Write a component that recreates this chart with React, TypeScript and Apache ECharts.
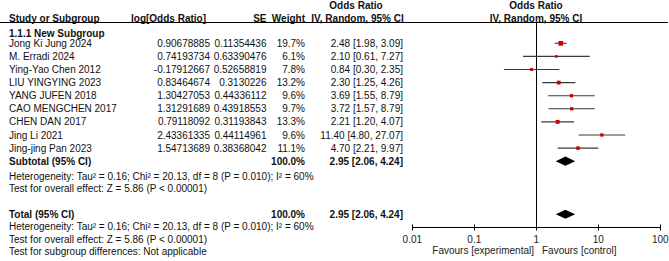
import React, { useEffect, useRef } from "react";
import * as echarts from "echarts";

// Study-level data
const studies = [
  "Jong Ki Jung 2024",
  "M. Erradi 2024",
  "Ying-Yao Chen 2012",
  "LIU YINGYING 2023",
  "YANG JUFEN 2018",
  "CAO MENGCHEN 2017",
  "CHEN DAN 2017",
  "Jing Li 2021",
  "Jing-jing Pan 2023",
];
const logOR = [
  "0.90678885", "0.74193734", "-0.17912667", "0.83464674", "1.30427053",
  "1.31291689", "0.79118092", "2.43361335", "1.54713689",
];
const seValues = [
  "0.11354436", "0.63390476", "0.52658819", "0.3130226", "0.44336112",
  "0.43918553", "0.31193843", "0.44114961", "0.38368042",
];
const weights = [19.7, 6.1, 7.8, 13.2, 9.6, 9.7, 13.3, 9.6, 11.1];
const oddsRatio = [2.48, 2.1, 0.84, 2.3, 3.69, 3.72, 2.21, 11.4, 4.7];
const ciLow = [1.98, 0.61, 0.3, 1.25, 1.55, 1.57, 1.2, 4.8, 2.21];
const ciHigh = [3.09, 7.27, 2.35, 4.26, 8.79, 8.79, 4.07, 27.07, 9.97];

// Pooled estimates: subtotal and total
const pooledLabels = ["Subtotal (95% CI)", "Total (95% CI)"];
const pooledOR = [2.95, 2.95];
const pooledLow = [2.06, 2.06];
const pooledHigh = [4.24, 4.24];
const pooledWeight = ["100.0%", "100.0%"];

const xTicks = [0.01, 0.1, 1, 10, 100];
const xTickLabels = ["0.01", "0.1", "1", "10", "100"];
const nullEffect = 1;

const heterogeneityText =
  "Heterogeneity: Tau\u00b2 = 0.16; Chi\u00b2 = 20.13, df = 8 (P = 0.010); I\u00b2 = 60%";
const overallText = "Test for overall effect: Z = 5.86 (P < 0.00001)";
const subgroupText = "Test for subgroup differences: Not applicable";

// Layout
const W = 669;
const H = 261;
const FONT = '"Liberation Sans", Arial, Helvetica, sans-serif';
const TXT = "#111";
const ROW0 = 43.3; // pixel centre of first study row
const ROW_H = 13.1;
const GRID_TOP = 23;
const AXIS_Y = 227.5; // pixel position of the odds-ratio axis
const PLOT_LEFT = 412.3;
const PLOT_RIGHT = 660.3;
const Y_MIN = (GRID_TOP - ROW0) / ROW_H;
const Y_AXIS = (AXIS_Y - ROW0) / ROW_H; // row value of the axis baseline
const Y_EXT = Y_AXIS + 2.4; // grid extends below the axis so the axis sits inside it
const SUB_ROW = 9;
const TOTAL_ROW = 13.05;
const TICK_HALF = 3;

const rowY = (r: number) => ROW0 + ROW_H * r;

const COL_STUDY = 9;
const COL_LOG = 210;
const COL_SE = 266.5;
const COL_W = 305;
const COL_OR = 403;

function txt(
  text: string,
  x: number,
  y: number,
  align: "left" | "right" | "center" = "left",
  bold = false
) {
  return {
    type: "text",
    x,
    y,
    silent: true,
    style: {
      text,
      fill: TXT,
      font: `${bold ? "bold " : ""}10px ${FONT}`,
      align,
      verticalAlign: "middle",
    },
  };
}

const fmt = (v: number) => v.toFixed(2);
const orLabel = (o: number, l: number, h: number) => `${fmt(o)} [${fmt(l)}, ${fmt(h)}]`;

export default function App() {
  const ref = useRef<HTMLDivElement>(null);

  useEffect(() => {
    if (!ref.current) return;
    const chart = echarts.init(ref.current, null, { renderer: "svg" });

    const graphics: any[] = [];
    // headers
    graphics.push(txt("Odds Ratio", 356, 5.7, "center", true));
    graphics.push(txt("Odds Ratio", 536, 5.7, "center", true));
    graphics.push(txt("Study or Subgroup", COL_STUDY, 18.3, "left", true));
    graphics.push(txt("log[Odds Ratio]", 131, 18.3, "left", true));
    graphics.push(txt("SE", COL_SE, 18.3, "right", true));
    graphics.push(txt("Weight", COL_W, 18.3, "right", true));
    graphics.push(txt("IV, Random, 95% CI", 357.5, 18.3, "center", true));
    graphics.push(txt("IV, Random, 95% CI", 536, 18.3, "center", true));
    graphics.push({
      type: "line",
      silent: true,
      shape: { x1: 0, y1: 22.5, x2: 668, y2: 22.5 },
      style: { stroke: "#000", lineWidth: 1 },
    });
    graphics.push(txt("1.1.1 New Subgroup", COL_STUDY, 33.3, "left", true));

    studies.forEach((s, i) => {
      const y = rowY(i);
      graphics.push(txt(s, COL_STUDY, y));
      graphics.push(txt(logOR[i], COL_LOG, y, "right"));
      graphics.push(txt(seValues[i], COL_SE, y, "right"));
      graphics.push(txt(`${weights[i].toFixed(1)}%`, COL_W, y, "right"));
      graphics.push(txt(orLabel(oddsRatio[i], ciLow[i], ciHigh[i]), COL_OR, y, "right"));
    });

    // subtotal block
    const ySub = rowY(SUB_ROW);
    graphics.push(txt(pooledLabels[0], COL_STUDY, ySub, "left", true));
    graphics.push(txt(pooledWeight[0], COL_W, ySub, "right", true));
    graphics.push(txt(orLabel(pooledOR[0], pooledLow[0], pooledHigh[0]), COL_OR, ySub, "right", true));
    graphics.push(txt(heterogeneityText, COL_STUDY, 176.2));
    graphics.push(txt(overallText, COL_STUDY, 188.8));

    // total block
    const yTot = rowY(TOTAL_ROW);
    graphics.push(txt(pooledLabels[1], COL_STUDY, yTot, "left", true));
    graphics.push(txt(pooledWeight[1], COL_W, yTot, "right", true));
    graphics.push(txt(orLabel(pooledOR[1], pooledLow[1], pooledHigh[1]), COL_OR, yTot, "right", true));
    graphics.push(txt(heterogeneityText, COL_STUDY, 226.6));
    graphics.push(txt(overallText, COL_STUDY, 239.1));
    graphics.push(txt(subgroupText, COL_STUDY, 251.6));

    // favours labels
    graphics.push({
      type: "text",
      x: 534,
      y: 250.5,
      silent: true,
      style: { text: "Favours [experimental]", fill: "#222", font: `10px ${FONT}`, align: "right", verticalAlign: "middle" },
    });
    graphics.push({
      type: "text",
      x: 542,
      y: 250.5,
      silent: true,
      style: { text: "Favours [control]", fill: "#222", font: `10px ${FONT}`, align: "left", verticalAlign: "middle" },
    });

    const ciData = studies.map((_, i) => [ciLow[i], ciHigh[i], i]);
    const pointData = studies.map((_, i) => [oddsRatio[i], i, weights[i]]);
    const diamondData = [
      [pooledOR[0], pooledLow[0], pooledHigh[0], SUB_ROW],
      [pooledOR[1], pooledLow[1], pooledHigh[1], TOTAL_ROW],
    ];
    const tickData = xTicks.map((t) => [t, Y_AXIS]);
    const nullData = [[nullEffect, Y_MIN, Y_AXIS]];

    chart.setOption({
      animation: false,
      grid: {
        left: PLOT_LEFT,
        width: PLOT_RIGHT - PLOT_LEFT,
        top: GRID_TOP,
        height: (Y_EXT - Y_MIN) * ROW_H,
        containLabel: false,
      },
      xAxis: {
        type: "log",
        logBase: 10,
        min: xTicks[0],
        max: xTicks[xTicks.length - 1],
        show: false,
        splitLine: { show: false },
      },
      yAxis: {
        type: "value",
        inverse: true,
        min: Y_MIN,
        max: Y_EXT,
        show: false,
        splitLine: { show: false },
      },
      graphic: graphics,
      series: [
        {
          // odds-ratio axis tick labels
          type: "custom",
          silent: true,
          clip: false,
          data: tickData,
          renderItem: (params: any, api: any) => {
            const p = api.coord([api.value(0), api.value(1)]);
            return {
              type: "text",
              x: p[0],
              y: p[1] + 11.8,
              style: {
                text: xTickLabels[params.dataIndex],
                fill: "#222",
                font: `10px ${FONT}`,
                align: "center",
                verticalAlign: "middle",
              },
            };
          },
        },
        {
          // line of no effect
          type: "custom",
          silent: true,
          clip: false,
          data: nullData,
          renderItem: (_p: any, api: any) => {
            const a = api.coord([api.value(0), api.value(1)]);
            const b = api.coord([api.value(0), api.value(2)]);
            const x = Math.round(a[0]) + 0.5;
            return {
              type: "line",
              shape: { x1: x, y1: a[1], x2: x, y2: b[1] },
              style: { stroke: "#000", lineWidth: 1 },
            };
          },
        },
        {
          // confidence intervals
          type: "custom",
          silent: true,
          data: ciData,
          renderItem: (_p: any, api: any) => {
            const a = api.coord([api.value(0), api.value(2)]);
            const b = api.coord([api.value(1), api.value(2)]);
            return {
              type: "line",
              shape: { x1: a[0], y1: a[1], x2: b[0], y2: b[1] },
              style: { stroke: "#3a3a3a", lineWidth: 1.1 },
            };
          },
        },
        {
          // study estimates, sized by weight
          type: "scatter",
          silent: true,
          symbol: "rect",
          symbolSize: (v: number[]) => 1.05 * Math.sqrt(v[2]),
          itemStyle: { color: "#c80000", opacity: 1 },
          data: pointData,
        },
        {
          // pooled estimates
          type: "custom",
          silent: true,
          data: diamondData,
          renderItem: (_p: any, api: any) => {
            const row = api.value(3);
            const c = api.coord([api.value(0), row]);
            const l = api.coord([api.value(1), row]);
            const r = api.coord([api.value(2), row]);
            const h = 4.6;
            return {
              type: "polygon",
              shape: {
                points: [
                  [l[0], c[1]],
                  [c[0], c[1] - h],
                  [r[0], c[1]],
                  [c[0], c[1] + h],
                ],
              },
              style: { fill: "#000" },
            };
          },
        },
      ],
    });

    // Axis baseline and crossing ticks, placed through the chart's own x scale
    const tickPx = xTicks.map((t) => chart.convertToPixel({ gridIndex: 0 }, [t, Y_AXIS]) as number[]);
    const axisGraphics: any[] = tickPx.map((p, i) => ({
      type: "line",
      id: `tick-${i}`,
      silent: true,
      z: 100,
      shape: {
        x1: Math.round(p[0]) + 0.5,
        y1: p[1] - TICK_HALF,
        x2: Math.round(p[0]) + 0.5,
        y2: p[1] + TICK_HALF,
      },
      style: { stroke: "#000", lineWidth: 1 },
    }));
    const first = tickPx[0];
    const last = tickPx[tickPx.length - 1];
    axisGraphics.push({
      type: "line",
      id: "axis-baseline",
      silent: true,
      z: 100,
      shape: { x1: Math.round(first[0]), y1: first[1], x2: Math.round(last[0]) + 1, y2: last[1] },
      style: { stroke: "#000", lineWidth: 1 },
    });
    chart.setOption({ graphic: [...graphics, ...axisGraphics] });

    return () => chart.dispose();
  }, []);

  return (
    <div
      ref={ref}
      style={{ position: "absolute", left: 0, top: 0, width: W, height: H, background: "#fff" }}
    />
  );
}
